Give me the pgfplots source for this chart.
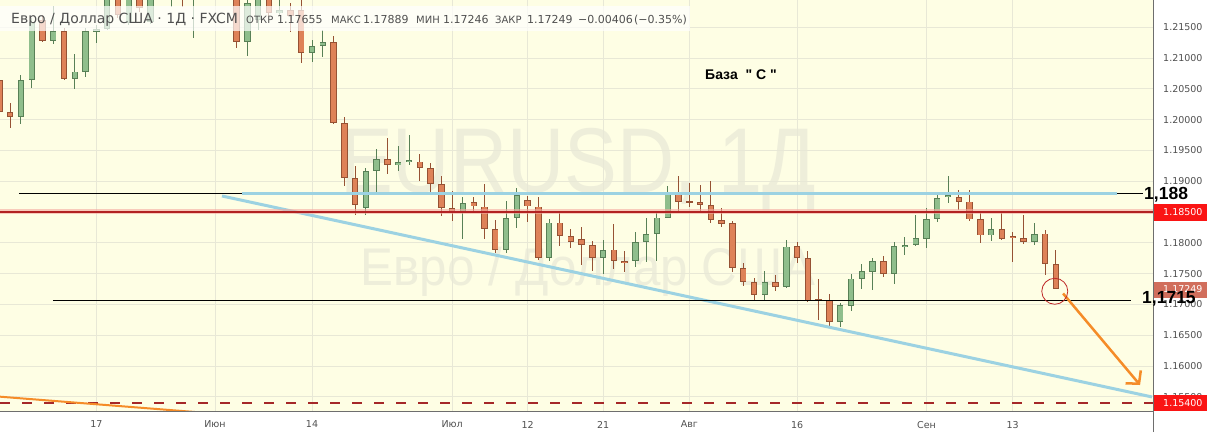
\documentclass[border=0pt]{standalone}
\usepackage{pgfplots}
\pgfplotsset{compat=1.18}
\usepackage{pgfplotstable}
\usepackage{fontspec}
\setmainfont{DejaVu Sans}
\newfontfamily\lib{Liberation Sans}
\usetikzlibrary{arrows.meta}

\definecolor{bgy}{RGB}{254,254,228}
\definecolor{gridc}{RGB}{232,232,214}
\definecolor{wm}{RGB}{238,238,218}
\definecolor{gfill}{RGB}{143,190,140}
\definecolor{gline}{RGB}{88,128,86}
\definecolor{rfill}{RGB}{222,130,88}
\definecolor{rline}{RGB}{150,82,52}
\definecolor{lvlred}{RGB}{178,34,34}
\definecolor{glow}{RGB}{245,170,160}
\definecolor{tblue}{RGB}{156,210,226}
\definecolor{orng}{RGB}{245,140,40}
\definecolor{txtg}{RGB}{80,80,80}
\definecolor{axg}{RGB}{110,110,110}
\definecolor{boxred}{RGB}{250,20,20}
\definecolor{boxsal}{RGB}{205,95,75}
\definecolor{circred}{RGB}{190,40,40}
\definecolor{dashred}{RGB}{165,40,40}

\pgfplotstableread{
d O H L C
-27 1.2004 1.2072 1.1993 1.2064
-26 1.2064 1.2165 1.2052 1.2159
-24 1.2128 1.2184 1.2123 1.2144
-22 1.2066 1.2107 1.2050 1.2078
-21 1.2078 1.2149 1.2070 1.2144
-20 1.2143 1.2154 1.2125 1.2147
-19 1.2148 1.2214 1.2145 1.2207
-17 1.2157 1.2210 1.2154 1.2202
-15 1.2159 1.2207 1.2155 1.2199
-14 1.2205 1.2225 1.2200 1.2215
-13 1.2205 1.2235 1.2183 1.2225
-11 1.2200 1.2225 1.2132 1.2215
-10 1.2215 1.2240 1.2200 1.2225
-6 1.2126 1.2200 1.2104 1.2189
-5 1.2162 1.2210 1.2145 1.2197
-3 1.2173 1.2195 1.2170 1.2178
0 1.2108 1.2130 1.2093 1.2119
1 1.2119 1.2145 1.2101 1.2126
5 1.1856 1.1921 1.1846 1.1917
6 1.1916 1.1952 1.1881 1.1936
8 1.1926 1.1958 1.1917 1.1931
9 1.1931 1.1975 1.1926 1.1934
14 1.1848 1.1874 1.1806 1.1864
18 1.1789 1.1868 1.1783 1.1841
19 1.1841 1.1889 1.1824 1.1878
22 1.1775 1.1839 1.1771 1.1833
27 1.1776 1.1805 1.1749 1.1789
30 1.1770 1.1818 1.1761 1.1801
31 1.1801 1.1841 1.1769 1.1815
32 1.1815 1.1849 1.1771 1.1841
33 1.1841 1.1892 1.1840 1.1883
42 1.1716 1.1755 1.1706 1.1736
44 1.1728 1.1805 1.1726 1.1794
49 1.1672 1.1703 1.1663 1.1699
50 1.1698 1.1749 1.1689 1.1742
51 1.1742 1.1766 1.1725 1.1754
52 1.1753 1.1775 1.1723 1.1770
54 1.1750 1.1802 1.1734 1.1794
55 1.1793 1.1809 1.1781 1.1796
56 1.1796 1.1845 1.1795 1.1807
57 1.1807 1.1856 1.1792 1.1838
58 1.1838 1.1878 1.1833 1.1873
59 1.1874 1.1908 1.1865 1.1878
63 1.1812 1.1841 1.1803 1.1823
67 1.1801 1.1833 1.1796 1.1815
}\greenT

\pgfplotstableread{
d O H L C
-29 1.2064 1.2072 1.2003 1.2012
-28 1.2012 1.2027 1.1986 1.2004
-25 1.2162 1.2170 1.2126 1.2128
-23 1.2144 1.2149 1.2064 1.2066
-18 1.2207 1.2214 1.2165 1.2170
-16 1.2202 1.2210 1.2175 1.2181
-12 1.2230 1.2240 1.2183 1.2210
-9 1.2225 1.2245 1.2200 1.2215
-8 1.2215 1.2235 1.2196 1.2205
-7 1.2203 1.2215 1.2117 1.2126
-4 1.2197 1.2208 1.2168 1.2173
-2 1.2178 1.2190 1.2143 1.2168
-1 1.2178 1.2195 1.2092 1.2108
2 1.2126 1.2136 1.1993 1.1994
3 1.1994 1.2005 1.1892 1.1905
4 1.1905 1.1925 1.1846 1.1862
7 1.1936 1.1970 1.1912 1.1926
10 1.1932 1.1945 1.1901 1.1921
11 1.1921 1.1930 1.1881 1.1895
12 1.1895 1.1908 1.1844 1.1856
13 1.1856 1.1885 1.1836 1.1848
15 1.1866 1.1875 1.1852 1.1859
16 1.1859 1.1895 1.1806 1.1822
17 1.1822 1.1837 1.1783 1.1789
20 1.1870 1.1876 1.1834 1.1859
21 1.1859 1.1874 1.1772 1.1775
23 1.1833 1.1848 1.1795 1.1811
24 1.1811 1.1822 1.1791 1.1801
25 1.1806 1.1825 1.1764 1.1796
26 1.1796 1.1803 1.1755 1.1776
28 1.1789 1.1831 1.1757 1.1770
29 1.1770 1.1787 1.1753 1.1767
34 1.1883 1.1908 1.1850 1.1867
35 1.1867 1.1897 1.1858 1.1865
36 1.1866 1.1894 1.1852 1.1862
37 1.1862 1.1900 1.1832 1.1837
38 1.1837 1.1856 1.1826 1.1831
39 1.1832 1.1835 1.1753 1.1759
40 1.1759 1.1768 1.1730 1.1736
41 1.1736 1.1743 1.1707 1.1716
43 1.1736 1.1748 1.1722 1.1728
45 1.1794 1.1801 1.1767 1.1776
46 1.1776 1.1786 1.1704 1.1706
47 1.1708 1.1742 1.1675 1.1706
48 1.1708 1.1717 1.1665 1.1672
53 1.1770 1.1779 1.1745 1.1750
60 1.1875 1.1886 1.1854 1.1867
61 1.1867 1.1886 1.1836 1.1838
62 1.1838 1.1849 1.1800 1.1812
64 1.1823 1.1849 1.1805 1.1807
65 1.1811 1.1818 1.1769 1.1808
66 1.1808 1.1845 1.1798 1.1801
68 1.1815 1.1821 1.1748 1.17655
69 1.17655 1.17889 1.17246 1.17249
}\redT

\pgfplotsset{candle/.style={only marks, mark=*, mark size=0pt, mark options={draw=none, fill=none},
  error bars/.cd, y dir=both, y explicit, error mark=none}}

\begin{document}
\begin{tikzpicture}[x=1pt,y=1pt]
\fill[white] (0,0) rectangle (1207,432);
\fill[bgy] (0,21) rectangle (1153,432);
% watermark
\node[text=wm, font=\lib\fontsize{92}{92}\selectfont, xscale=0.86, anchor=base, inner sep=0pt] at (578,240) {EURUSD, 1Д};
\node[text=wm, font=\lib\fontsize{53}{53}\selectfont, xscale=0.93, anchor=base, inner sep=0pt] at (588,147) {Евро / Доллар США};

\begin{axis}[
  at={(0pt,21pt)}, anchor=south west,
  width=1153pt, height=411pt, scale only axis,
  xmin=-28.942, xmax=78.015, ymin=1.15269, ymax=1.21942,
  axis x line*=bottom, axis y line*=right,
  axis line style={draw=none},
  xtick={-20,-9,0,13,20,27,35,45,57,65},
  xticklabels={17,Июн,14,Июл,12,21,Авг,16,Сен,13},
  ytick={1.155,1.16,1.165,1.17,1.175,1.18,1.185,1.19,1.195,1.2,1.205,1.21,1.215},
  grid=major, grid style={draw=gridc, line width=0.8pt},
  major tick length=0pt,
  tick label style={font=\fontsize{9.5}{11}\selectfont, text=txtg},
  y tick label style={anchor=west, inner sep=0pt, xshift=10pt,
    /pgf/number format/fixed, /pgf/number format/fixed zerofill,
    /pgf/number format/precision=5, /pgf/number format/assume math mode=true},
  x tick label style={yshift=-6.5pt},
  clip mode=individual,
]
% wicks
\addplot[candle, error bar style={line width=1pt, draw=gline}]
  table[x=d, y expr={(\thisrow{H}+\thisrow{L})/2}, y error expr={(\thisrow{H}-\thisrow{L})/2}] {\greenT};
\addplot[candle, error bar style={line width=1pt, draw=rline}]
  table[x=d, y expr={(\thisrow{H}+\thisrow{L})/2}, y error expr={(\thisrow{H}-\thisrow{L})/2}] {\redT};
% body outlines
\addplot[candle, error bar style={line width=6.4pt, draw=gline}]
  table[x=d, y expr={(\thisrow{O}+\thisrow{C})/2}, y error expr={max(abs(\thisrow{C}-\thisrow{O})/2,0.00018)}] {\greenT};
\addplot[candle, error bar style={line width=6.4pt, draw=rline}]
  table[x=d, y expr={(\thisrow{O}+\thisrow{C})/2}, y error expr={max(abs(\thisrow{C}-\thisrow{O})/2,0.00018)}] {\redT};
% body fills
\addplot[candle, error bar style={line width=4.6pt, draw=gfill}]
  table[x=d, y expr={(\thisrow{O}+\thisrow{C})/2}, y error expr={max(abs(\thisrow{C}-\thisrow{O})/2-0.000146,0)}] {\greenT};
\addplot[candle, error bar style={line width=4.6pt, draw=rfill}]
  table[x=d, y expr={(\thisrow{O}+\thisrow{C})/2}, y error expr={max(abs(\thisrow{C}-\thisrow{O})/2-0.000146,0)}] {\redT};

% levels and trend lines
\addplot[draw=black, line width=1pt] coordinates {(-27.18,1.188) (77.09,1.188)};
\addplot[draw=tblue, line width=3pt] coordinates {(-6.49,1.188) (74.68,1.188)};
\addplot[draw=tblue, line width=3pt] coordinates {(-8.35,1.18760) (77.92,1.15497)};
\addplot[draw=glow, line width=5pt, opacity=0.6] coordinates {(-30,1.185) (80,1.185)};
\addplot[draw=lvlred, line width=2pt] coordinates {(-30,1.185) (80,1.185)};
\addplot[draw=black, line width=1pt] coordinates {(-24.03,1.1706) (75.97,1.1706)};
\addplot[draw=dashred, line width=2.5pt, dash pattern=on 10pt off 12pt] coordinates {(-28.9,1.1540) (80,1.1540)};
\addplot[draw=orng, line width=2pt] coordinates {(-30,1.15516) (-10.8,1.15252)};
\addplot[draw=orng, line width=2.5pt, -{Straight Barb[length=9pt,width=20pt]}] coordinates {(69.67,1.17177) (76.81,1.15691)};
\addplot[only marks, mark=o, mark size=13pt, mark options={draw=circred, line width=0.8pt}] coordinates {(68.90,1.17213)};
\end{axis}

% axis lines
\draw[axg, line width=0.8pt] (0,21) -- (1153,21);
\draw[axg, line width=0.8pt] (1153,0) -- (1153,432);

% legend box
\fill[white, opacity=0.7] (0,401) rectangle (690,426);
\begin{scope}[every node/.style={anchor=base west, inner sep=0pt, text=txtg}]
\node[font=\fontsize{14}{16}\selectfont] at (11,408) {Евро / Доллар США · 1Д · FXCM};
\node[font=\fontsize{10}{12}\selectfont] at (246,408) {ОТКР};
\node[font=\fontsize{11}{12}\selectfont] at (277,408) {1.17655};
\node[font=\fontsize{10}{12}\selectfont] at (331,408) {МАКС};
\node[font=\fontsize{11}{12}\selectfont] at (363,408) {1.17889};
\node[font=\fontsize{10}{12}\selectfont] at (416,408) {МИН};
\node[font=\fontsize{11}{12}\selectfont] at (443,408) {1.17246};
\node[font=\fontsize{10}{12}\selectfont] at (495,408) {ЗАКР};
\node[font=\fontsize{11}{12}\selectfont] at (527,408) {1.17249};
\node[font=\fontsize{11}{12}\selectfont] at (578,408) {−0.00406};
\node[font=\fontsize{11}{12}\selectfont] at (634,408) {(−0.35\%)};
\end{scope}

% annotation
\node[anchor=base west, inner sep=0pt, font=\lib\bfseries\fontsize{14}{16}\selectfont] at (705,352) {База \ " С "};

% price boxes
\fill[boxred] (1154,211.5) rectangle (1207,228);
\node[anchor=west, inner sep=0pt, text=white, font=\fontsize{9.5}{11}\selectfont] at (1163,219.7) {1.18500};
\fill[boxsal, opacity=0.9] (1154,134.5) rectangle (1207,150.5);
\node[anchor=west, inner sep=0pt, text=white, font=\fontsize{9.5}{11}\selectfont] at (1163,142.5) {1.17249};
\fill[boxred] (1154,21) rectangle (1207,37);
\node[anchor=west, inner sep=0pt, text=white, font=\fontsize{9.5}{11}\selectfont] at (1163,29) {1.15400};

% level labels
\node[anchor=base west, inner sep=0pt, font=\lib\bfseries\fontsize{17.5}{18}\selectfont] at (1144,232.5) {1,188};
\node[anchor=base west, inner sep=0pt, font=\lib\bfseries\fontsize{17.5}{18}\selectfont] at (1142,128.7) {1,1715};

\pgfresetboundingbox
\useasboundingbox (0,0) rectangle (1207,432);
\end{tikzpicture}
\end{document}
